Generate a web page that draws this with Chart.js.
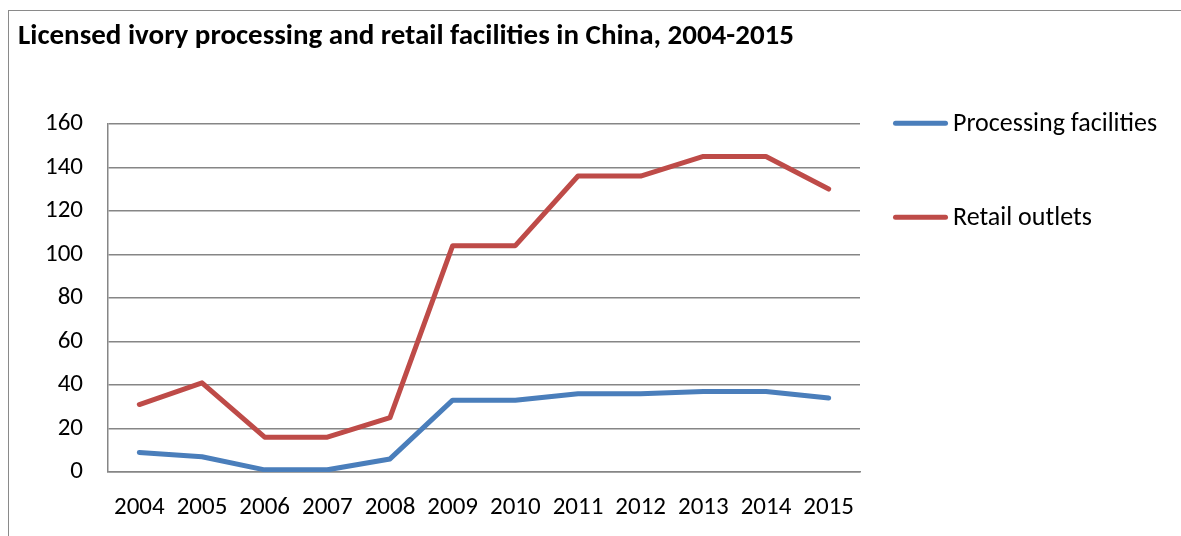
<!DOCTYPE html>
<html lang="en">
  <head>
    <meta charset="UTF-8" />
    <title>Licensed ivory facilities</title>
    <style>
      body {
        margin: 0;
        width: 1181px;
        height: 536px;
        overflow: hidden;
        background-color: white;
        position: relative;
      }
      .frame {
        position: absolute;
        left: 8px;
        top: 10px;
        width: 1300px;
        height: 700px;
        border: 1.5px solid #8a8a8a;
      }
      .chart-box {
        position: absolute;
        left: 0;
        top: 0;
        width: 1181px;
        height: 536px;
      }
    </style>
  </head>
  <body>
    <div class="frame"></div>
    <div class="chart-box">
      <canvas id="ivoryChart"></canvas>
    </div>

    <script src="https://cdn.jsdelivr.net/npm/chart.js"></script>
    <script>
      // data
      const years = ['2004', '2005', '2006', '2007', '2008', '2009', '2010', '2011', '2012', '2013', '2014', '2015'];
      const processingFacilities = [9, 7, 1, 1, 6, 33, 33, 36, 36, 37, 37, 34];
      const retailOutlets = [31, 41, 16, 16, 25, 104, 104, 136, 136, 145, 145, 130];
      const yTicks = [0, 20, 40, 60, 80, 100, 120, 140, 160];

      const fontFamily = 'Carlito, Lato, "Open Sans", sans-serif';

      // legend drawn to the right of the plot, Excel style
      const sideLegend = {
        id: 'sideLegend',
        afterDraw(chart) {
          const ctx = chart.ctx;
          const area = chart.chartArea;
          ctx.save();
          chart.data.datasets.forEach((ds, i) => {
            const y = area.top - 0.5 + i * 94;
            const x = area.right + 35.5;
            ctx.strokeStyle = ds.borderColor;
            ctx.lineWidth = 5;
            ctx.lineCap = 'round';
            ctx.beginPath();
            ctx.moveTo(x, y);
            ctx.lineTo(x + 50, y);
            ctx.stroke();
            ctx.fillStyle = '#000';
            ctx.font = '26px ' + fontFamily;
            ctx.textBaseline = 'middle';
            ctx.fillText(ds.label, area.right + 93, y + 1);
          });
          ctx.restore();
        }
      };

      const ctx = document.getElementById('ivoryChart').getContext('2d');
      const ivoryChart = new Chart(ctx, {
        type: 'line',
        data: {
          labels: years,
          datasets: [
            {
              label: 'Processing facilities',
              data: processingFacilities,
              borderColor: '#4a7ebb',
              backgroundColor: '#4a7ebb',
              borderWidth: 5,
              pointRadius: 0,
              tension: 0,
              fill: false,
            },
            {
              label: 'Retail outlets',
              data: retailOutlets,
              borderColor: '#be4b48',
              backgroundColor: '#be4b48',
              borderWidth: 5,
              pointRadius: 0,
              tension: 0,
              fill: false,
            }
          ]
        },
        options: {
          responsive: true,
          maintainAspectRatio: false,
          animation: false,
          elements: {
            line: { borderJoinStyle: 'round', borderCapStyle: 'round' }
          },
          layout: {
            padding: { left: 18, right: 321, top: 0, bottom: 0 }
          },
          plugins: {
            legend: { display: false },
            tooltip: { enabled: false },
            title: {
              display: true,
              text: 'Licensed ivory processing and retail facilities in China, 2004-2015',
              align: 'start',
              color: '#000',
              font: { family: fontFamily, size: 29, weight: 'bold' },
              padding: { top: 19, bottom: 70 }
            }
          },
          scales: {
            x: {
              offset: true,
              grid: { display: false, drawTicks: false },
              border: { display: true, color: '#868686', width: 1.5 },
              ticks: {
                color: '#000',
                font: { family: fontFamily, size: 25 },
                padding: 21,
                maxRotation: 0,
                autoSkip: false
              },
              afterFit(scale) { scale.height = 64; }
            },
            y: {
              min: 0,
              max: 160,
              afterBuildTicks(scale) {
                scale.ticks = yTicks.map(v => ({ value: v }));
              },
              grid: { color: '#868686', lineWidth: 1.5, drawTicks: false },
              border: { display: true, color: '#868686', width: 1.5 },
              ticks: {
                color: '#000',
                font: { family: fontFamily, size: 25 },
                padding: 25
              },
              afterFit(scale) { scale.width = 90; }
            }
          }
        },
        plugins: [sideLegend]
      });
    </script>
  </body>
</html>
